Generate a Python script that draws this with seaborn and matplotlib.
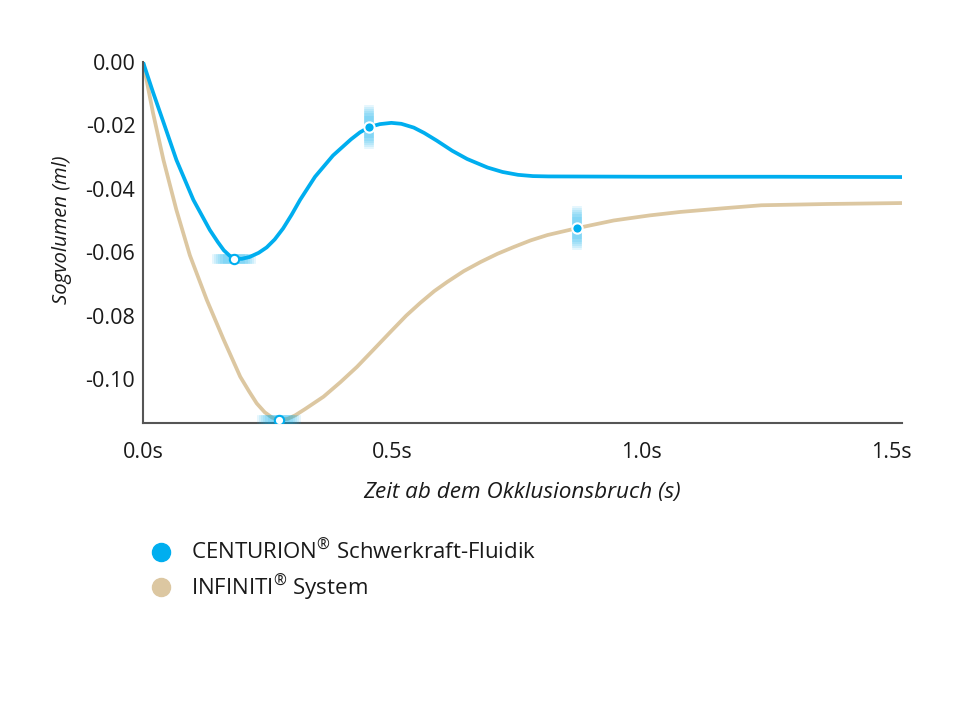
import numpy as np
import pandas as pd
import matplotlib
matplotlib.use("Agg")
import matplotlib.pyplot as plt
from matplotlib.lines import Line2D
import seaborn as sns

# ---- data ----
t_centurion = [0.000, 0.020, 0.041, 0.067, 0.101, 0.134, 0.150, 0.162, 0.175, 0.183,
               0.198, 0.214, 0.232, 0.248, 0.264, 0.281, 0.298, 0.315, 0.345, 0.381,
               0.417, 0.435, 0.454, 0.475, 0.498, 0.518, 0.543, 0.564, 0.589, 0.620,
               0.650, 0.691, 0.721, 0.752, 0.782, 0.813, 1.016, 1.270, 1.522]
v_centurion = [0.0000, -0.0095, -0.0190, -0.0309, -0.0435, -0.0530, -0.0568, -0.0594, -0.0613, -0.0620,
               -0.0621, -0.0615, -0.0602, -0.0585, -0.0560, -0.0525, -0.0482, -0.0435, -0.0362, -0.0295,
               -0.0244, -0.0222, -0.0205, -0.0196, -0.0192, -0.0195, -0.0207, -0.0224, -0.0248, -0.0280,
               -0.0306, -0.0333, -0.0347, -0.0356, -0.0360, -0.0361, -0.0362, -0.0362, -0.0363]

t_infiniti = [0.000, 0.020, 0.041, 0.067, 0.094, 0.128, 0.162, 0.195, 0.213, 0.228,
              0.244, 0.259, 0.273, 0.290, 0.305, 0.325, 0.362, 0.396, 0.429, 0.462,
              0.496, 0.528, 0.556, 0.584, 0.610, 0.643, 0.677, 0.711, 0.743, 0.777,
              0.811, 0.871, 0.944, 1.016, 1.078, 1.168, 1.240, 1.372, 1.522]
v_infiniti = [0.0000, -0.0160, -0.0309, -0.0467, -0.0610, -0.0751, -0.0877, -0.0993, -0.1040, -0.1077,
              -0.1105, -0.1122, -0.1129, -0.1126, -0.1115, -0.1095, -0.1056, -0.1010, -0.0962, -0.0908,
              -0.0852, -0.0800, -0.0760, -0.0723, -0.0694, -0.0660, -0.0631, -0.0605, -0.0584, -0.0563,
              -0.0546, -0.0524, -0.0500, -0.0484, -0.0473, -0.0461, -0.0452, -0.0448, -0.0445]

# highlighted points
open_t = [0.183, 0.273]
open_v = [-0.0620, -0.1129]
filled_t = [0.454, 0.871]
filled_v = [-0.0205, -0.0524]

series_names = ["CENTURION® Schwerkraft-Fluidik", "INFINITI® System"]
legend_labels = ["CENTURION$^{\\mathrm{®}}$ Schwerkraft-Fluidik", "INFINITI$^{\\mathrm{®}}$ System"]
x_ticks = [0.0, 0.5, 1.0, 1.5]
x_ticklabels = ["0.0s", "0.5s", "1.0s", "1.5s"]
y_ticks = [0.00, -0.02, -0.04, -0.06, -0.08, -0.10]
y_ticklabels = ["0.00", "-0.02", "-0.04", "-0.06", "-0.08", "-0.10"]

BLUE = "#00AEEF"
BEIGE = "#DCC7A1"
TXT = "#1a1a1a"
FS = 15.5

sns.set_theme(style="white")
plt.rcParams["font.family"] = ["Open Sans", "DejaVu Sans"]
plt.rcParams["mathtext.fontset"] = "custom"
plt.rcParams["mathtext.rm"] = "Open Sans"
plt.rcParams["mathtext.it"] = "Open Sans:italic"

df = pd.concat([
    pd.DataFrame({"t": t_centurion, "v": v_centurion, "s": series_names[0]}),
    pd.DataFrame({"t": t_infiniti, "v": v_infiniti, "s": series_names[1]}),
])

fig = plt.figure(figsize=(9.68, 7.05), dpi=100)
ax = fig.add_axes([143/968, 1-423/705, (902-143)/968, (423-62)/705])

sns.lineplot(data=df, x="t", y="v", hue="s", hue_order=series_names[::-1],
             palette={series_names[0]: BLUE, series_names[1]: BEIGE},
             linewidth=2.7, ax=ax, legend=False, sort=False)
for ln in ax.get_lines():
    ln.set_solid_joinstyle("round")
    ln.set_solid_capstyle("round")

# glows
for k in range(6):
    ax.scatter(open_t, open_v, marker="_", s=(1000 - k*150), linewidths=7,
               color=BLUE, alpha=0.10, zorder=4)
    ax.scatter(filled_t, filled_v, marker="|", s=(1000 - k*150), linewidths=7,
               color=BLUE, alpha=0.10, zorder=4)

ax.scatter(open_t, open_v, s=45, facecolor="white", edgecolor=BLUE, linewidths=1.5, zorder=6)
ax.scatter(filled_t, filled_v, s=55, facecolor=BLUE, edgecolor="white", linewidths=1.5, zorder=6)

ax.set_xlim(0, 1.522)
ax.set_ylim(-0.1139, 0.0)
ax.set_xticks(x_ticks)
ax.set_xticklabels(x_ticklabels)
ax.set_yticks(y_ticks)
ax.set_yticklabels(y_ticklabels)
ax.tick_params(axis="both", length=0, labelsize=FS, colors=TXT)
ax.tick_params(axis="x", pad=13.5)
ax.tick_params(axis="y", pad=5.5)

for side in ["top", "right"]:
    ax.spines[side].set_visible(False)
for side in ["left", "bottom"]:
    ax.spines[side].set_color("#555555")
    ax.spines[side].set_linewidth(1.5)

ax.set_xlabel("Zeit ab dem Okklusionsbruch (s)", fontsize=16.2, fontstyle="italic",
              color=TXT, labelpad=14)
ax.set_ylabel("Sogvolumen (ml)", fontsize=14.6, fontstyle="italic", color=TXT)
ax.yaxis.set_label_coords(-0.093, 0.535)

handles = [Line2D([0], [0], marker="o", linestyle="", markersize=13, markerfacecolor=c,
                  markeredgecolor=c) for c in (BLUE, BEIGE)]
fig.legend(handles, legend_labels, loc="upper left", bbox_to_anchor=(139/968, 1-531/705),
           frameon=False, fontsize=16, handletextpad=0.74, labelspacing=0.37,
           handlelength=1.2, borderaxespad=0, labelcolor=TXT)

fig.savefig("out.png", dpi=100)
